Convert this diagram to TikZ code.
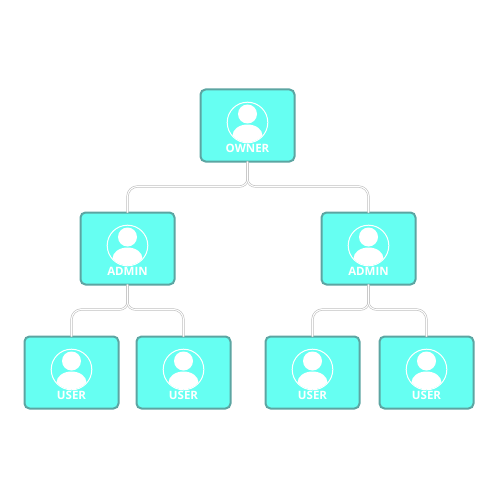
\documentclass[tikz,border=0pt]{standalone}
\usepackage{fontspec}
\setmainfont{Open Sans}
\usetikzlibrary{calc}
\definecolor{boxfill}{RGB}{102,255,242}
\definecolor{boxedge}{RGB}{92,165,162}
\definecolor{linkedge}{RGB}{185,185,185}
\tikzset{
  x=1pt,y=-1pt,
  orgbox/.style={draw=boxedge,fill=boxfill,line width=2pt,rounded corners=5pt,minimum width=94pt,minimum height=72pt,inner sep=0pt,outer sep=0pt},
  orglabel/.style={text=white,font=\bfseries\fontsize{11.5}{11.5}\selectfont,inner sep=0pt},
  link/.style={draw=linkedge,line width=0.55pt,double=white,double distance=1.1pt},
  ring/.style={draw=white,line width=1pt},
}
\newcommand\orgbox[4]{%
  \node[orgbox] (#1) at (#2,#3) {};
  \node[orglabel] (#1-label) at (#2,#3+22.5) {#4};
  \draw[ring] (#2,#3-3) circle (20.3);
  \fill[white] (#2,#3-11.5) circle (9.5);
  \begin{scope}
    \clip (#2,#3-3) circle (19.8);
    \fill[white] (#2,#3+10) ellipse (15 and 11);
  \end{scope}
}
\newcommand\branch[4]{%
  \coordinate (#1-#2-bus) at ($(#1.south)+(0,#3)$);
  \draw[link] (#1.south) -- ++(0,#3-7) .. controls +(0,4) and +(-#4*4,0) .. ++(#4*8,7)
    [rounded corners=10pt] -- (#2.north |- #1-#2-bus) -- (#2.north);
}
\begin{document}
\begin{tikzpicture}
  \useasboundingbox (0,0) rectangle (500,500);
  \fill[white] (0,0) rectangle (500,500);
  \orgbox{owner}{247.5}{125.5}{OWNER}
  \orgbox{adminl}{127.5}{248.5}{ADMIN}
  \orgbox{adminr}{368.5}{248.5}{ADMIN}
  \orgbox{usera}{71.5}{372.5}{USER}
  \orgbox{userb}{183.5}{372.5}{USER}
  \orgbox{userc}{312.5}{372.5}{USER}
  \orgbox{userd}{426.5}{372.5}{USER}
  \branch{owner}{adminl}{25}{-1}
  \branch{owner}{adminr}{25}{1}
  \branch{adminl}{usera}{25}{-1}
  \branch{adminl}{userb}{25}{1}
  \branch{adminr}{userc}{25}{-1}
  \branch{adminr}{userd}{25}{1}
\end{tikzpicture}
\end{document}
